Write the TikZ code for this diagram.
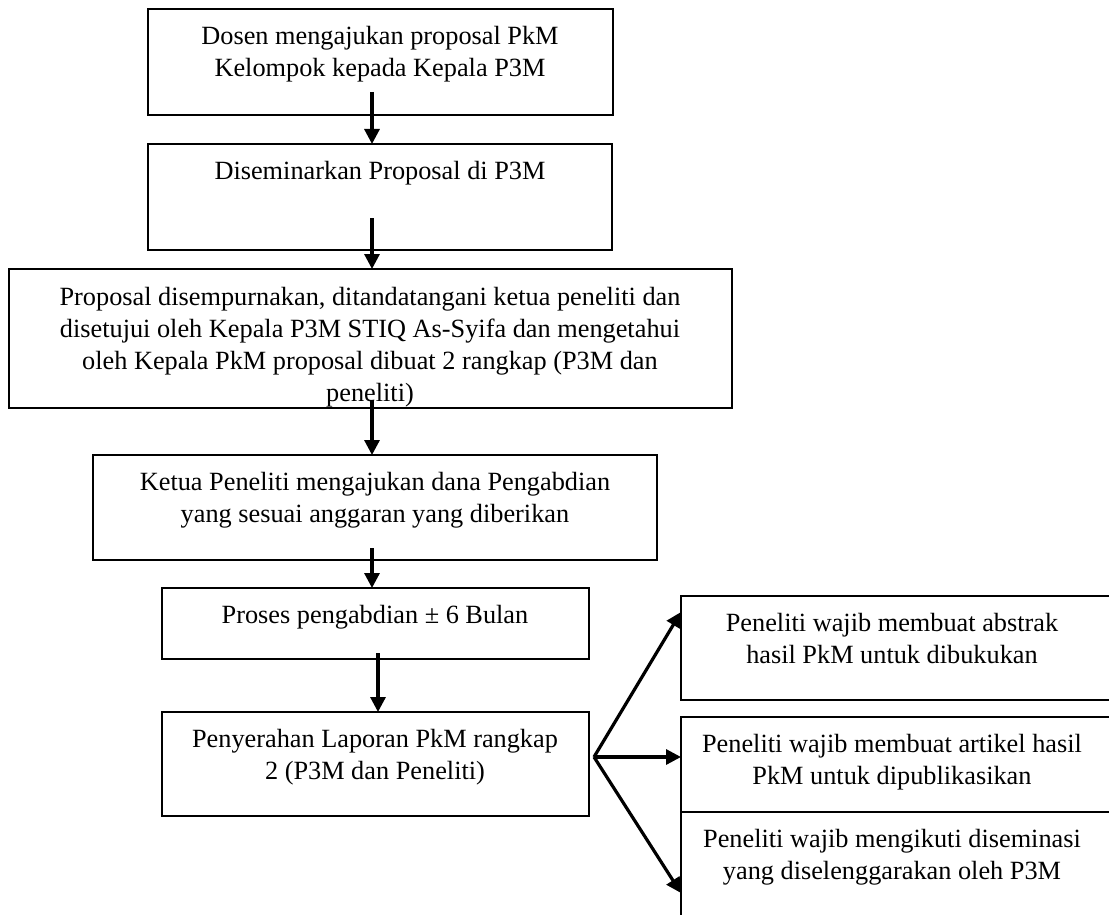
\documentclass[tikz,border=0pt]{standalone}
\usepackage{fontspec}
\setmainfont{Liberation Serif}
\usetikzlibrary{arrows.meta,calc}
\begin{document}
\begin{tikzpicture}[x=1pt,y=-1pt,
  box/.style={draw, line width=2.8pt, anchor=north west, inner sep=0pt, outer sep=0pt},
  txt/.style={anchor=north, align=center, inner sep=0pt, font=\fontsize{26.3}{32}\selectfont},
  arr/.style={line width=3.2pt, -{Triangle[length=15pt,width=15pt]}}]
\useasboundingbox (0,0) rectangle (1109,915);
\clip (0,0) rectangle (1109,915);

% boxes
\node[box, minimum width=465pt, minimum height=106pt] (b1) at (148,9) {};
\node[box, minimum width=464pt, minimum height=106pt] (b2) at (148,144) {};
\node[box, minimum width=723pt, minimum height=139pt] (b3) at (9,269) {};
\node[box, minimum width=564pt, minimum height=105pt] (b4) at (93,455) {};
\node[box, minimum width=427pt, minimum height=71pt] (b5) at (162,588) {};
\node[box, minimum width=427pt, minimum height=104pt] (b6) at (162,712) {};
\node[box, minimum width=431pt, minimum height=104pt] (bA) at (681,596) {};
\node[box, minimum width=431pt, minimum height=95pt] (bB) at (681,717) {};
\node[box, minimum width=431pt, minimum height=140pt] (bC) at (681,812) {};

% texts
\node[txt] (t1) at (380,26) {Dosen mengajukan proposal PkM\\Kelompok kepada Kepala P3M};
\node[txt] (t2) at (380,161) {Diseminarkan Proposal di P3M};
\begin{scope}
\clip (9,269) rectangle (732,406);
\node[txt] (t3) at (370,287) {Proposal disempurnakan, ditandatangani ketua peneliti dan\\disetujui oleh Kepala P3M STIQ As-Syifa dan mengetahui\\oleh Kepala PkM proposal dibuat 2 rangkap (P3M dan\\peneliti)};
\end{scope}
\node[txt] (t4) at (375,472) {Ketua Peneliti mengajukan dana Pengabdian\\yang sesuai anggaran yang diberikan};
\node[txt] (t5) at (375,605) {Proses pengabdian ± 6 Bulan};
\node[txt] (t6) at (375,729) {Penyerahan Laporan PkM rangkap\\2 (P3M dan Peneliti)};
\node[txt] (tA) at (892,613) {Peneliti wajib membuat abstrak\\hasil PkM untuk dibukukan};
\node[txt] (tB) at (892,734) {Peneliti wajib membuat artikel hasil\\PkM untuk dipublikasikan};
\node[txt] (tC) at (892,829) {Peneliti wajib mengikuti diseminasi\\yang diselenggarakan oleh P3M};

% connectors
\coordinate (s1) at (372,92);
\coordinate (s2) at (372,218);
\coordinate (s3) at (372,400);
\coordinate (s4) at (372,548);
\coordinate (s5) at (378,653);
\coordinate (f) at (594,757);
\draw[arr] (s1) -- (s1 |- b2.north);
\draw[arr] (s2) -- (s2 |- b3.north);
\draw[arr] (s3) -- (s3 |- b4.north);
\draw[arr] (s4) -- (s4 |- b5.north);
\draw[arr] (s5) -- (s5 |- b6.north);
\draw[arr] (f) -- ([yshift=-16pt]bA.north west);
\draw[arr] (f) -- (f -| bB.west);
\draw[arr] (f) -- ([yshift=-81pt]bC.north west);
\end{tikzpicture}
\end{document}
